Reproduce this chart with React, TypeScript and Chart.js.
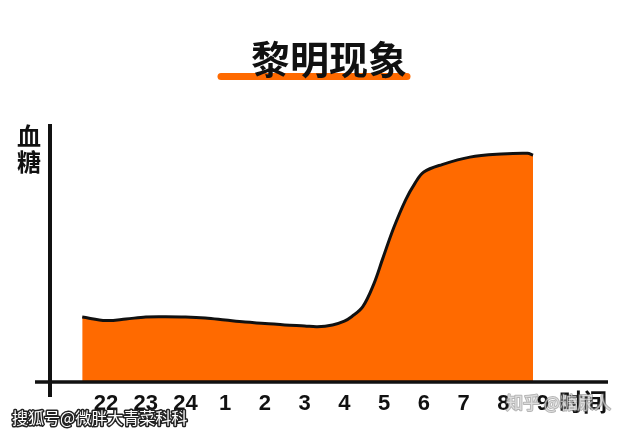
import React, { useEffect, useRef } from "react";
import { Chart, registerables } from "chart.js";

Chart.register(...registerables);

// ---- data ----
const chartTitle = "黎明现象";
const yAxisTitle = ["血", "糖"];
const xAxisTitle = "时间";
const tickLabels = ["22", "23", "24", "1", "2", "3", "4", "5", "6", "7", "8", "9"];
// hours after 22:00 (index of tick label)
const hours = [-0.6, 0, 0.5, 1, 1.5, 2, 2.5, 3, 3.5, 4, 4.5, 5, 5.32, 5.7, 6, 6.19, 6.46, 6.73, 6.97, 7.24, 7.54, 7.78, 8, 8.46, 9.16, 9.95, 10.61, 10.75];
// blood glucose (relative units)
const glucose = [25.3, 23.9, 24.5, 25.3, 25.4, 25.3, 24.9, 24.1, 23.3, 22.8, 22.2, 21.8, 21.5, 22.2, 23.7, 25.5, 29.2, 37.7, 48.2, 59.9, 70.8, 77.4, 81.7, 84.6, 87.5, 88.7, 89.0, 88.3];
const watermarks = ["搜狐号@微胖大青菜科科", "知乎 @糖尿人"];

const ORANGE = "#ff6a00";
const INK = "#111111";
const CJK = "'Noto Sans CJK SC', 'Noto Sans', sans-serif";
const LATIN = "'Liberation Sans', Arial, sans-serif";

const decorPlugin = {
  id: "decor",
  beforeDraw(chart: any) {
    const ctx = chart.ctx;
    ctx.save();
    ctx.strokeStyle = ORANGE;
    ctx.lineCap = "round";
    ctx.lineWidth = 7;
    ctx.beginPath();
    ctx.moveTo(221, 76.5);
    ctx.lineTo(407, 76.5);
    ctx.stroke();
    ctx.restore();
  },
  afterDraw(chart: any) {
    const ctx = chart.ctx;
    const a = chart.chartArea;
    ctx.save();
    ctx.strokeStyle = INK;
    ctx.lineCap = "butt";
    // x axis
    ctx.lineWidth = 3.5;
    ctx.beginPath();
    ctx.moveTo(35, a.bottom);
    ctx.lineTo(a.right, a.bottom);
    ctx.stroke();
    // y axis
    ctx.lineWidth = 4;
    ctx.beginPath();
    ctx.moveTo(a.left, a.top - 1);
    ctx.lineTo(a.left, a.bottom + 15);
    ctx.stroke();

    ctx.fillStyle = INK;
    ctx.textAlign = "center";
    ctx.textBaseline = "middle";
    ctx.font = `bold 24px ${CJK}`;
    ctx.fillText(yAxisTitle[0], 29, 136);
    ctx.fillText(yAxisTitle[1], 29, 162);
    ctx.fillText(xAxisTitle, 583, 402);

    // watermarks
    ctx.textAlign = "left";
    ctx.font = `16px ${CJK}`;
    ctx.lineJoin = "round";
    ctx.lineWidth = 3;
    ctx.strokeStyle = "#222";
    ctx.strokeText(watermarks[0], 12, 418);
    ctx.fillStyle = "#ffffff";
    ctx.fillText(watermarks[0], 12, 418);

    ctx.font = `17px ${CJK}`;
    ctx.lineWidth = 2;
    ctx.strokeStyle = "rgba(120,120,120,0.55)";
    ctx.strokeText(watermarks[1], 506, 403);
    ctx.fillStyle = "rgba(255,255,255,0.55)";
    ctx.fillText(watermarks[1], 506, 403);
    ctx.restore();
  },
};

export default function App() {
  const ref = useRef<HTMLCanvasElement | null>(null);
  useEffect(() => {
    if (!ref.current) return;
    const chart = new Chart(ref.current, {
      type: "line",
      data: {
        datasets: [
          {
            data: hours.map((h, i) => ({ x: h, y: glucose[i] })),
            borderColor: INK,
            borderWidth: 3,
            backgroundColor: ORANGE,
            fill: "origin",
            pointRadius: 0,
            tension: 0.35,
          },
        ],
      },
      options: {
        animation: false,
        responsive: true,
        maintainAspectRatio: false,
        layout: { padding: { left: 50, right: 33, top: 0, bottom: 0 } },
        plugins: {
          legend: { display: false },
          tooltip: { enabled: false },
          title: {
            display: true,
            text: chartTitle,
            color: INK,
            font: { family: CJK, size: 39, weight: "bold" },
            padding: { top: 36, bottom: 42.2 },
          },
        },
        scales: {
          x: {
            type: "linear",
            min: -1.411,
            max: 12.637,
            bounds: "data",
            grid: { display: false },
            border: { display: false },
            afterBuildTicks: (scale: any) => {
              scale.ticks = tickLabels.map((_, i) => ({ value: i }));
            },
            afterFit: (scale: any) => {
              scale.height = 54;
            },
            ticks: {
              autoSkip: false,
              maxRotation: 0,
              padding: 1,
              color: INK,
              font: { family: LATIN, size: 22, weight: "bold" },
              callback: (v: any) => tickLabels[Math.round(Number(v))] ?? "",
            },
          },
          y: { display: false, min: 0, max: 100 },
        },
      },
      plugins: [decorPlugin],
    });
    return () => chart.destroy();
  }, []);
  return (
    <div style={{ position: "absolute", left: 0, top: 0, width: 641, height: 436, background: "#fff" }}>
      <canvas ref={ref} />
    </div>
  );
}
